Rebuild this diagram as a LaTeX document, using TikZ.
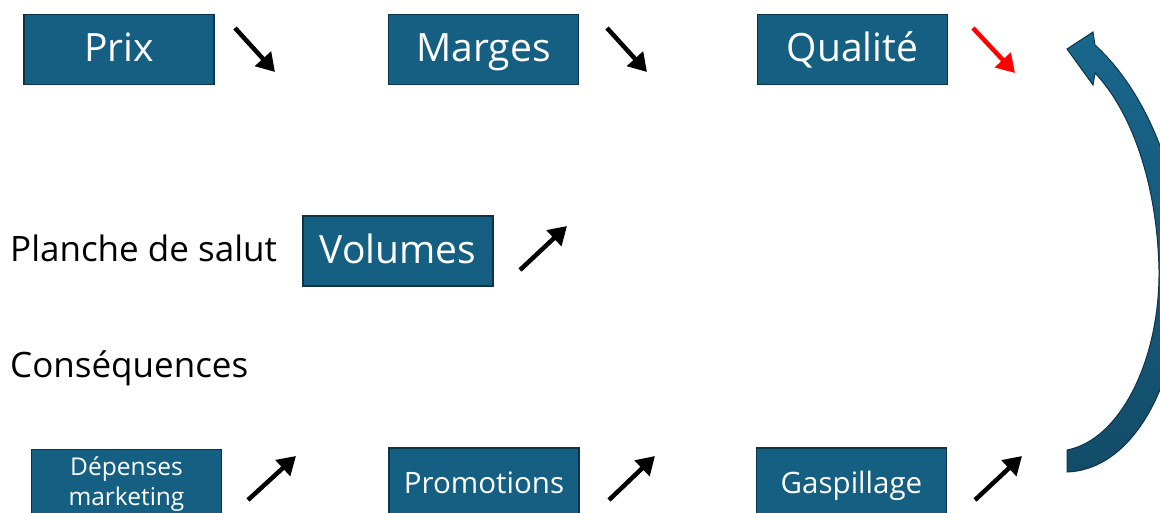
\documentclass[tikz,border=0pt]{standalone}
\usepackage{fontspec}
\setmainfont{Open Sans}
\usetikzlibrary{arrows.meta}
\definecolor{boxblue}{HTML}{156082}
\definecolor{boxline}{HTML}{0B3449}
\definecolor{loopblue}{HTML}{19678C}
\definecolor{loopdark}{HTML}{134C69}

\begin{document}
\begin{tikzpicture}[x=1pt, y=-1pt,
	box/.style={draw=boxline, line width=1.2pt, fill=boxblue, text=white, minimum width=190pt, minimum height=70pt, inner sep=0pt, align=center},
	big/.style={font=\fontsize{39}{46}\selectfont, text height=30pt, text depth=5pt},
	mid/.style={font=\fontsize{29.5}{35}\selectfont, text height=24pt, text depth=4pt},
	small/.style={font=\fontsize{24.5}{30}\selectfont},
	label/.style={anchor=base west, inner sep=0pt, font=\fontsize{35}{40}\selectfont},
	trend/.style={line width=4.5pt, -{Triangle[length=18pt,width=21pt]}},]
\useasboundingbox (0,0) rectangle (1160,513);
\clip (0,0) rectangle (1160,513);
% top row
\node[box, big] (prix) at (119,49.5) {Prix};
\node[box, big] (marges) at (483.5,49.5) {Marges};
\node[box, big] (qualite) at (852.5,49.5) {Qualité};
% middle
\node[label] (planche) at (10,262) {Planche de salut};
\node[box, big] (volumes) at (398,251) {Volumes};
\node[label] (consequences) at (10,377) {Conséquences};
% bottom row
\node[box, small] (depenses) at (126.5,484.5) {Dépenses\\marketing};
\node[box, mid] (promotions) at (484,483) {Promotions};
\node[box, mid] (gaspillage) at (851.5,483) {Gaspillage};
% trend arrows
\coordinate (prixA) at (235,28);
\coordinate (prixB) at (275,72);
\coordinate (margesA) at (607,28);
\coordinate (margesB) at (647,72);
\coordinate (qualiteA) at (973,28);
\coordinate (qualiteB) at (1015,73);
\coordinate (volumesA) at (520,270);
\coordinate (volumesB) at (567,226);
\coordinate (depensesA) at (248,500);
\coordinate (depensesB) at (296,456);
\coordinate (promotionsA) at (609,500);
\coordinate (promotionsB) at (655,456);
\coordinate (gaspillageA) at (975,500);
\coordinate (gaspillageB) at (1022,456);
\draw[trend] (prixA) -- (prixB);
\draw[trend] (margesA) -- (margesB);
\draw[trend, red] (qualiteA) -- (qualiteB);
\draw[trend] (volumesA) -- (volumesB);
\draw[trend] (depensesA) -- (depensesB);
\draw[trend] (promotionsA) -- (promotionsB);
\draw[trend] (gaspillageA) -- (gaspillageB);
% loop back arrow
\draw[boxline, line width=1pt, top color=loopblue, bottom color=loopdark]
	(1067,450) .. controls (1120,440) and (1160,360) .. (1159,270)
	.. controls (1157,180) and (1130,110) .. (1095,73)
	-- (1093,85) -- (1067,49) -- (1093,32) -- (1095,45)
	.. controls (1150,95) and (1186,190) .. (1182,280)
	.. controls (1178,390) and (1130,470) .. (1067,472) -- cycle;
\end{tikzpicture}
\end{document}
